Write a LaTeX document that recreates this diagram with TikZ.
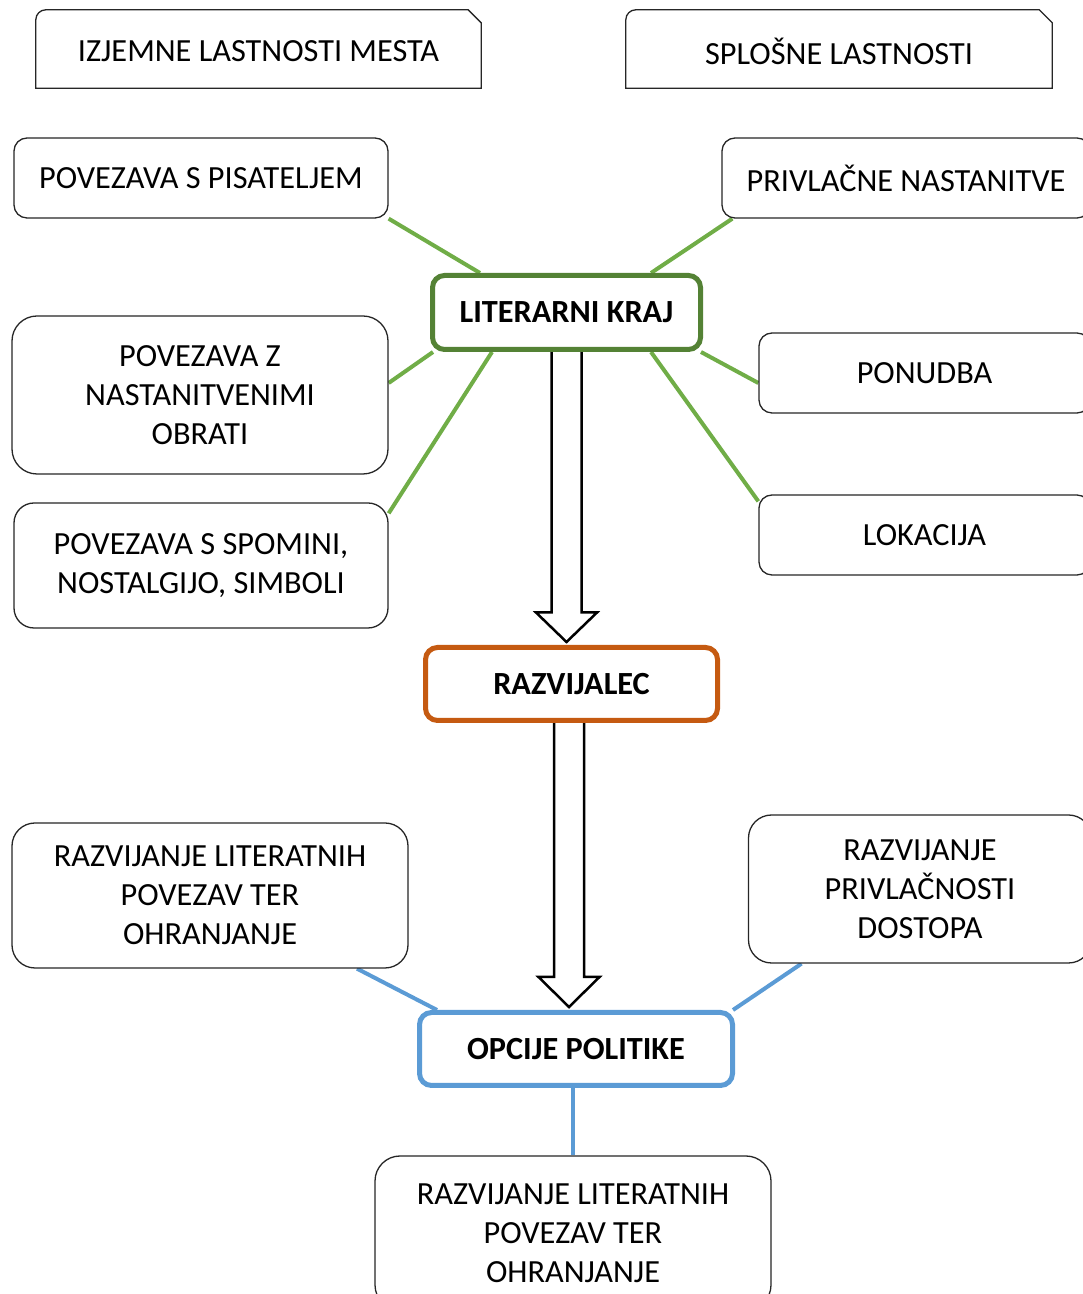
\documentclass[tikz,border=0pt]{standalone}
\usepackage{fontspec}
\setmainfont{Carlito}
\usetikzlibrary{calc,backgrounds}
\definecolor{litgreen}{HTML}{548235}
\definecolor{linegreen}{HTML}{70AD47}
\definecolor{razorange}{HTML}{C55A11}
\definecolor{opcblue}{HTML}{5B9BD5}
\begin{document}
\begin{tikzpicture}[x=1pt,y=1pt,
  font=\fontsize{32.3}{39}\selectfont,
  tlabel/.style={inner sep=0pt, align=center},
  tbox/.style={draw=black!85, line width=1.3pt, fill=white},
  box/.style={draw=black!85, line width=1.3pt, fill=white, align=center, inner sep=0pt},
  main/.style={fill=white, line width=5pt, rounded corners=12pt, align=center, inner sep=0pt, font=\fontsize{32.3}{39}\selectfont\bfseries},
  hollow/.style={draw=black, line width=2.5pt, fill=white, line join=miter},
  gline/.style={draw=linegreen, line width=4pt},
  bline/.style={draw=opcblue, line width=4pt}]
\useasboundingbox (0,0) rectangle (1083,1294);
\clip (0,0) rectangle (1083,1294);

% top title boxes
\node[tlabel, minimum width=445pt, minimum height=78pt] (A) at (258.5,1245) {};
\draw[tbox] (A.south west) -- ($(A.north west)+(0,-10)$) arc[start angle=180, end angle=90, radius=10pt] -- ($(A.north east)+(-13,0)$) -- ($(A.north east)+(0,-13)$) -- (A.south east) -- cycle;
\node[tlabel] at ($(A.center)+(0,-2)$) {IZJEMNE LASTNOSTI MESTA};
\node[tlabel, minimum width=426pt, minimum height=78pt] (B) at (839,1245) {};
\draw[tbox] (B.south west) -- ($(B.north west)+(0,-10)$) arc[start angle=180, end angle=90, radius=10pt] -- ($(B.north east)+(-13,0)$) -- ($(B.north east)+(0,-13)$) -- (B.south east) -- cycle;
\node[tlabel] at ($(B.center)+(0,-2)$) {SPLOŠNE LASTNOSTI};

% left column
\node[box, rounded corners=13pt, minimum width=374pt, minimum height=80pt] (pis) at (201,1116) {POVEZAVA S PISATELJEM};
\node[box, rounded corners=25pt, minimum width=376pt, minimum height=158pt] (obr) at (200,899) {POVEZAVA Z\\NASTANITVENIMI\\OBRATI};
\node[box, rounded corners=20pt, minimum width=374pt, minimum height=125pt] (spo) at (201,728.5) {POVEZAVA S SPOMINI,\\NOSTALGIJO, SIMBOLI};

% right column
\node[box, rounded corners=13pt, minimum width=368pt, minimum height=80pt] (pri) at (906,1116) {PRIVLAČNE NASTANITVE};
\node[box, rounded corners=13pt, minimum width=331pt, minimum height=80pt] (pon) at (924.5,921) {PONUDBA};
\node[box, rounded corners=13pt, minimum width=331pt, minimum height=80pt] (lok) at (924.5,759) {LOKACIJA};

% central nodes
\node[main, draw=litgreen, minimum width=268pt, minimum height=74pt] (lit) at (566.5,981.5) {LITERARNI KRAJ};
\node[main, draw=razorange, minimum width=292pt, minimum height=73pt] (raz) at (571.5,610) {RAZVIJALEC};
\node[main, draw=opcblue, minimum width=313pt, minimum height=73pt] (opc) at (576,245) {OPCIJE POLITIKE};

% lower boxes
\node[box, rounded corners=23pt, minimum width=396pt, minimum height=145pt] (lrp) at (210,398.5) {RAZVIJANJE LITERATNIH\\POVEZAV TER\\OHRANJANJE};
\node[box, rounded corners=23pt, minimum width=343pt, minimum height=148pt] (rpd) at (920,405) {RAZVIJANJE\\PRIVLAČNOSTI\\DOSTOPA};
\node[box, rounded corners=25pt, minimum width=396pt, minimum height=154pt] (bot) at (573,61) {RAZVIJANJE LITERATNIH\\POVEZAV TER\\OHRANJANJE};

\begin{scope}[on background layer]
  % green connectors
  \draw[gline] (pis.south east) -- ([xshift=-86.5pt]lit.north);
  \draw[gline] ([xshift=11pt]pri.south west) -- ([xshift=84.5pt]lit.north);
  \draw[gline] ([yshift=12pt]obr.east) -- ([xshift=3pt]lit.south west);
  \draw[gline] ([yshift=-11pt]spo.north east) -- ([xshift=-74.5pt]lit.south);
  \draw[gline] ([xshift=-2pt]lit.south east) -- ([yshift=-10pt]pon.west);
  \draw[gline] ([yshift=-7pt]lok.north west) -- ([xshift=84.5pt]lit.south);
  % blue connectors
  \draw[bline] ([xshift=147pt]lrp.south) -- ([xshift=-139pt]opc.north);
  \draw[bline] ([xshift=-118.5pt]rpd.south) -- ([xshift=157pt]opc.north);
  \draw[bline] (opc.south -| bot.north) -- (bot.north);
  % hollow arrows
  \coordinate (t1) at ($(lit.south |- raz.north)+(0,3)$);
  \draw[hollow] ($(lit.south)+(-15,0)$) -- ($(t1)+(-15,29.5)$) -- ($(t1)+(-30.5,29.5)$) -- (t1) -- ($(t1)+(30.5,29.5)$) -- ($(t1)+(15,29.5)$) -- ($(lit.south)+(15,0)$);
  \coordinate (a2) at ($(raz.south)+(-2.5,0)$);
  \coordinate (t2) at ($(a2 |- opc.north)+(0,3)$);
  \draw[hollow] ($(a2)+(-15,0)$) -- ($(t2)+(-15,30)$) -- ($(t2)+(-30.5,30)$) -- (t2) -- ($(t2)+(30.5,30)$) -- ($(t2)+(15,30)$) -- ($(a2)+(15,0)$);
\end{scope}
\end{tikzpicture}
\end{document}
